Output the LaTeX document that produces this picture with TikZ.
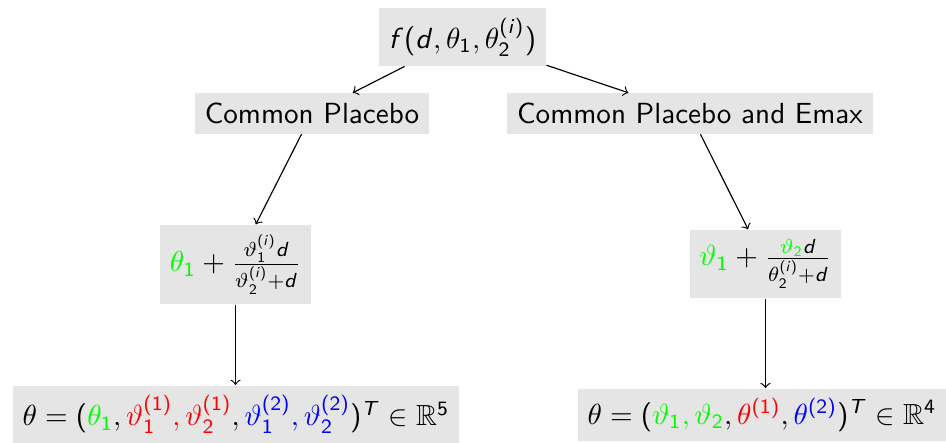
\documentclass[tikz,border=0pt]{standalone}
\usepackage{amssymb}
\renewcommand\familydefault{\sfdefault}
\SetSymbolFont{operators}{normal}{OT1}{cmss}{m}{n}
\DeclareSymbolFont{sfletters}{OT1}{cmss}{m}{sl}
\DeclareMathSymbol{d}{\mathalpha}{sfletters}{`d}
\DeclareMathSymbol{f}{\mathalpha}{sfletters}{`f}
\DeclareMathSymbol{i}{\mathalpha}{sfletters}{`i}
\DeclareMathSymbol{T}{\mathalpha}{sfletters}{`T}
\begin{document}
\begin{tikzpicture}[x=0.34366pt,y=-0.34366pt,
  box/.style={fill=gray!20, inner sep=3.33pt},
  link/.style={->}]
\useasboundingbox (0,0) rectangle (946,443);
\node[box] (top) at (462.5,37) {$f(d,\theta_1,\theta_2^{(i)})$};
\node[box] (cp) at (312,113.5) {Common Placebo};
\node[box] (cpe) at (690,113.5) {Common Placebo and Emax};
\node[box] (lf) at (235.5,264.5) {${\color{green}\theta_1}+\frac{\vartheta_1^{(i)}d}{\vartheta_2^{(i)}+d}$};
\node[box] (rf) at (765.5,264) {${\color{green}\vartheta_1}+\frac{{\color{green}\vartheta_2}d}{\theta_2^{(i)}+d}$};
\node[box] (bl) at (236,414.5) {$\theta=({\color{green}\theta_1},{\color{red}\vartheta_1^{(1)},\vartheta_2^{(1)}},{\color{blue}\vartheta_1^{(2)},\vartheta_2^{(2)}})^T\in\mathbb{R}^5$};
\node[box] (br) at (762,415) {$\theta=({\color{green}\vartheta_1,\vartheta_2},{\color{red}\theta^{(1)}},{\color{blue}\theta^{(2)}})^T\in\mathbb{R}^4$};
\draw[link] (top) -- (cp);
\draw[link] (top) -- (cpe);
\draw[link] (cp) -- (lf);
\draw[link] (cpe) -- (rf);
\draw[link] (lf.south) -- (lf.south |- bl.north);
\draw[link] (rf.south) -- (rf.south |- br.north);
\end{tikzpicture}
\end{document}
